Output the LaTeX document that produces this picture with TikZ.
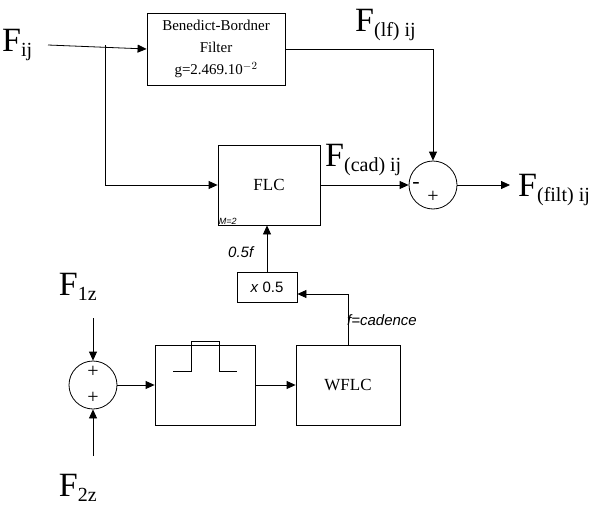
\documentclass[tikz,border=0pt]{standalone}
\usepackage{fontspec}
\setmainfont{Liberation Serif}
\newfontfamily\lab{Liberation Sans}
\usetikzlibrary{arrows.meta,positioning}
\tikzset{
  blk/.style={draw,thick,fill=white,inner sep=0pt},
  sumc/.style={draw,thick,circle,minimum size=48pt,inner sep=0pt},
  sig/.style={-{Triangle[length=9pt,width=8pt]},thick},
  bigF/.style={font=\fontsize{34}{36}\selectfont,inner sep=0pt},
  itl/.style={font=\lab\itshape\fontsize{15}{17}\selectfont,inner sep=0pt}
}
\newcommand\Sb[1]{$_{\mbox{\fontsize{20}{22}\selectfont #1}}$}
\begin{document}
\begin{tikzpicture}[x=1pt,y=-1pt]
\useasboundingbox (0,0) rectangle (600,514);

%% blocks
\node[blk,minimum width=138pt,minimum height=72pt,align=center,
  font=\fontsize{15}{22}\selectfont] (bb) at (216,49)
  {Benedict-Bordner\\Filter\\g=2.469.10$^{-2}$};
\node[blk,minimum width=102pt,minimum height=80pt,font=\fontsize{17}{19}\selectfont] (flc) at (269,185) {FLC};
\node[font=\lab\itshape\fontsize{9}{10}\selectfont,anchor=south west,inner sep=1pt] (m) at (flc.south west) {M=2};
\node[blk,minimum width=60pt,minimum height=30pt,font=\lab\fontsize{15}{17}\selectfont] (half) at (267,287) {\textit{x} 0.5};
\node[blk,minimum width=104pt,minimum height=80pt,font=\fontsize{17}{19}\selectfont] (wflc) at (348,385) {WFLC};
\node[blk,minimum width=100pt,minimum height=80pt] (bp) at (205,385) {};
\node[sumc] (s1) at (433,185) {};
\node[sumc] (s2) at (93,385) {};
\node[font=\fontsize{20}{20}\selectfont] (p1) at ([yshift=-12pt]s1.center) {+};
\node[font=\fontsize{22}{22}\selectfont] (n1) at ([xshift=-17pt]s1.center) {-};
\node[font=\fontsize{20}{20}\selectfont] (p2) at ([yshift=-13pt]s2.center) {+};
\node[font=\fontsize{20}{20}\selectfont] (p3) at ([yshift=13pt]s2.center) {+};

%% pulse
\draw[thick] ([xshift=-32pt,yshift=14pt]bp.center) -- ++(18,0) -- ++(0,-30)
  -- ++(28,0) -- ++(0,30) -- ++(18,0);

%% labels
\node[bigF,anchor=west] (fin) at (2,45) {F\Sb{ij}};
\node[bigF,anchor=west] (flf) at (355,25) {F\Sb{(lf) ij}};
\node[bigF,anchor=west] (fcad) at (325,160) {F\Sb{(cad) ij}};
\node[bigF,anchor=west] (fout) at (518,190) {F\Sb{(filt) ij}};
\node[bigF] (f1) at (78,287) {F\Sb{1z}};
\node[bigF] (f2) at (78,488) {F\Sb{2z}};
\node[itl,anchor=west] (lh) at (228,252) {0.5f};
\node[itl,anchor=west] (lc) at (347,320) {f=cadence};

%% connectors
\coordinate (br) at (105,45);
\coordinate (out) at (510,185);
\draw[sig] (48,45) -- (bb.west);
\draw[sig] (br) |- (flc.west);
\draw[sig] (bb.east) -| (s1.north);
\draw[sig] (flc.east) -- (s1.west);
\draw[sig] (s1.east) -- (out);
\draw[sig] (half.north) -- (flc.south -| half.north);
\draw[sig] (wflc.north) |- ([yshift=-7pt]half.east);
\draw[sig] (93,318) -- (s2.north);
\draw[sig] (93,456) -- (s2.south);
\draw[sig] (s2.east) -- (bp.west);
\draw[sig] (bp.east) -- (wflc.west);
\end{tikzpicture}
\end{document}
